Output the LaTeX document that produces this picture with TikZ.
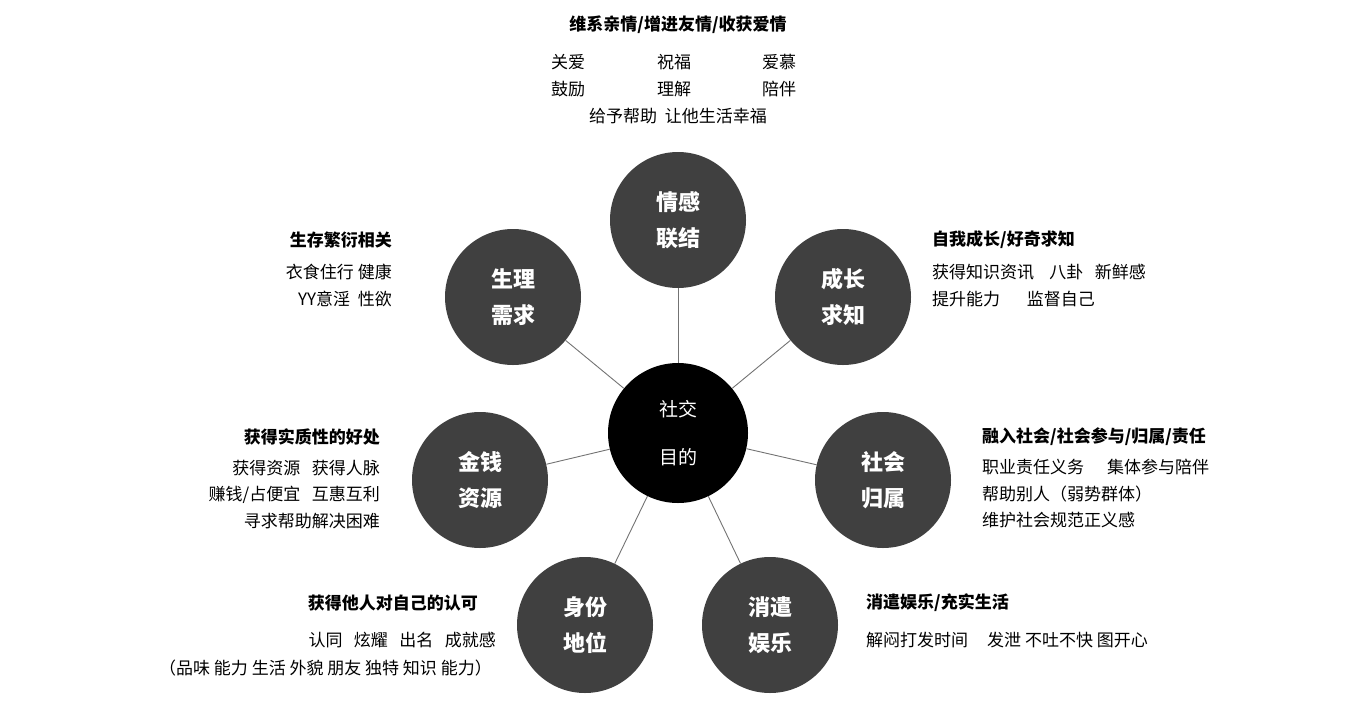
\documentclass[tikz,border=0pt]{standalone}
\usepackage{fontspec}
\setmainfont{Noto Sans CJK SC}
\newfontfamily\cjkb[BoldFont={Noto Sans CJK SC Bold}]{Noto Sans CJK SC}
\begin{document}
\begin{tikzpicture}[x=1pt,y=-1pt,
  outer/.style={circle,fill=black!75,minimum size=136pt,inner sep=0pt,text=white,font=\fontsize{22}{36}\selectfont\bfseries,align=center},
  hub/.style={circle,fill=black,minimum size=140pt,inner sep=0pt,text=white,font=\fontsize{19}{48}\selectfont,align=center},
  link/.style={draw=black!55,line width=0.9pt},
  ttl/.style={font=\fontsize{17}{20}\selectfont\bfseries,inner sep=0pt},
  itm/.style={font=\fontsize{17}{26.5}\selectfont,inner sep=0pt,align=left}]
\useasboundingbox (0,0) rectangle (1350,710);
\node[hub] (c) at (678,433) {社交\\目的};
\node[outer] (a) at (678,220) {情感\\联结};
\node[outer] (b) at (843,297) {成长\\求知};
\node[outer] (s) at (883,480) {社会\\归属};
\node[outer] (x) at (770,625) {消遣\\娱乐};
\node[outer] (d) at (585,625) {身份\\地位};
\node[outer] (m) at (480,480) {金钱\\资源};
\node[outer] (p) at (513,297) {生理\\需求};
\foreach \n in {a,b,s,x,d,m,p} \draw[link] (c) -- (\n);
% top
\node[ttl] (t1) at (678,25) {维系亲情/增进友情/收获爱情};
\node[itm,anchor=west] (t2) at (551,62) {关爱};
\node[itm,anchor=west] (t3) at (657,62) {祝福};
\node[itm,anchor=west] (t4) at (762,62) {爱慕};
\node[itm,anchor=west] (t5) at (551,89) {鼓励};
\node[itm,anchor=west] (t6) at (657,89) {理解};
\node[itm,anchor=west] (t7) at (762,89) {陪伴};
\node[itm] (t8) at (678,116) {给予帮助\ \ 让他生活幸福};
% physiology
\node[ttl,anchor=east] (p1) at (392,240) {生存繁衍相关};
\node[itm,anchor=north east,align=right] (p2) at (392,264) {衣食住行 健康\\YY意淫\ \ 性欲};
% growth
\node[ttl,anchor=west] (b1) at (932,240) {自我成长/好奇求知};
\node[itm,anchor=north west] (b2) at (932,264) {获得知识资讯\ \ \ \ 八卦\ \ \ 新鲜感\\提升能力\ \ \ \ \ \ \ 监督自己};
% money
\node[ttl,anchor=east] (m1) at (380,437) {获得实质性的好处};
\node[itm,anchor=north east,align=right] (m2) at (380,460) {获得资源\ \ \ 获得人脉\\赚钱/占便宜\ \ \ 互惠互利\\寻求帮助解决困难};
% social
\node[ttl,anchor=west] (s1) at (982,437) {融入社会/社会参与/归属/责任};
\node[itm,anchor=north west] (s2) at (982,459) {职业责任义务\ \ \ \ \ \ 集体参与陪伴\\帮助别人（弱势群体）\\维护社会规范正义感};
% identity
\node[ttl,anchor=east] (d1) at (478,603) {获得他人对自己的认可};
\node[itm,anchor=east] (d2) at (496,640) {认同\ \ \ 炫耀\ \ \ 出名\ \ \ 成就感};
\node[itm,anchor=east] (d3) at (492,668) {（品味 能力 生活 外貌 朋友 独特 知识 能力）};
% leisure
\node[ttl,anchor=west] (x1) at (866,603) {消遣娱乐/充实生活};
\node[itm,anchor=west] (x2) at (866,640) {解闷打发时间\ \ \ \ \ 发泄 不吐不快 图开心};
\end{tikzpicture}
\end{document}
